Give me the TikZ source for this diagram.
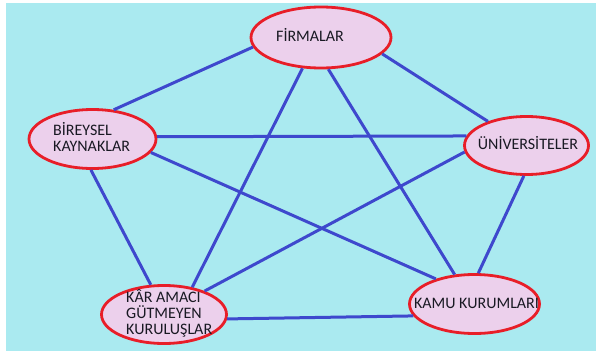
\documentclass[tikz,border=0pt]{standalone}
\usepackage{fontspec}
\setmainfont{Carlito}
\usetikzlibrary{shapes.geometric}
\definecolor{bg}{RGB}{170,234,240}
\definecolor{efill}{RGB}{236,208,236}
\definecolor{ered}{RGB}{232,30,40}
\definecolor{lblue}{RGB}{62,72,205}
\definecolor{txt}{RGB}{25,25,35}
\begin{document}
\begin{tikzpicture}[x=1pt,y=-1pt,
 ent/.style={ellipse, draw=ered, fill=efill, line width=2.8pt, inner sep=0pt},
 lbl/.style={font=\fontsize{16}{16}\selectfont, text=txt, align=left, inner sep=0pt},
 link/.style={draw=lblue, line width=3pt}]
\useasboundingbox (0,0) rectangle (602,353);
\fill[bg] (6,3) rectangle (596,351);
\node[ent, minimum width=140pt, minimum height=61pt] (fir) at (321,37.5) {};
\node[ent, minimum width=127pt, minimum height=59pt] (bir) at (92.5,139) {};
\node[ent, minimum width=124pt, minimum height=58pt] (uni) at (526.5,145.5) {};
\node[ent, minimum width=125pt, minimum height=58pt] (kar) at (164,314.5) {};
\node[ent, minimum width=130pt, minimum height=59pt] (kam) at (474.5,304) {};
\node[lbl] (firT) at (310,35) {FİRMALAR};
\node[lbl, anchor=west] (birT) at (53,137) {BİREYSEL\\KAYNAKLAR};
\node[lbl] (uniT) at (528,143) {ÜNİVERSİTELER};
\node[lbl, anchor=west] (karT) at (126,313.5) {KÂR AMACI\\GÜTMEYEN\\KURULUŞLAR};
\node[lbl] (kamT) at (476.5,303) {KAMU KURUMLARI};
\draw[link] (fir.188.7) -- (bir.54);
\draw[link] (fir.345.8) -- (uni.148.8);
\draw[link] (fir.239.7) -- (kar.44.5);
\draw[link] (fir.283.4) -- (kam.124.7);
\draw[link] (bir.2.7) -- (uni.171.3);
\draw[link] (bir.347) -- (kam.147.3);
\draw[link] (bir.267.4) -- (kar.114.7);
\draw[link] (uni.186) -- (kar.30);
\draw[link] (uni.265.6) -- (kam.83.6);
\draw[link] (kar.356) -- (kam.191.8);
\end{tikzpicture}
\end{document}
